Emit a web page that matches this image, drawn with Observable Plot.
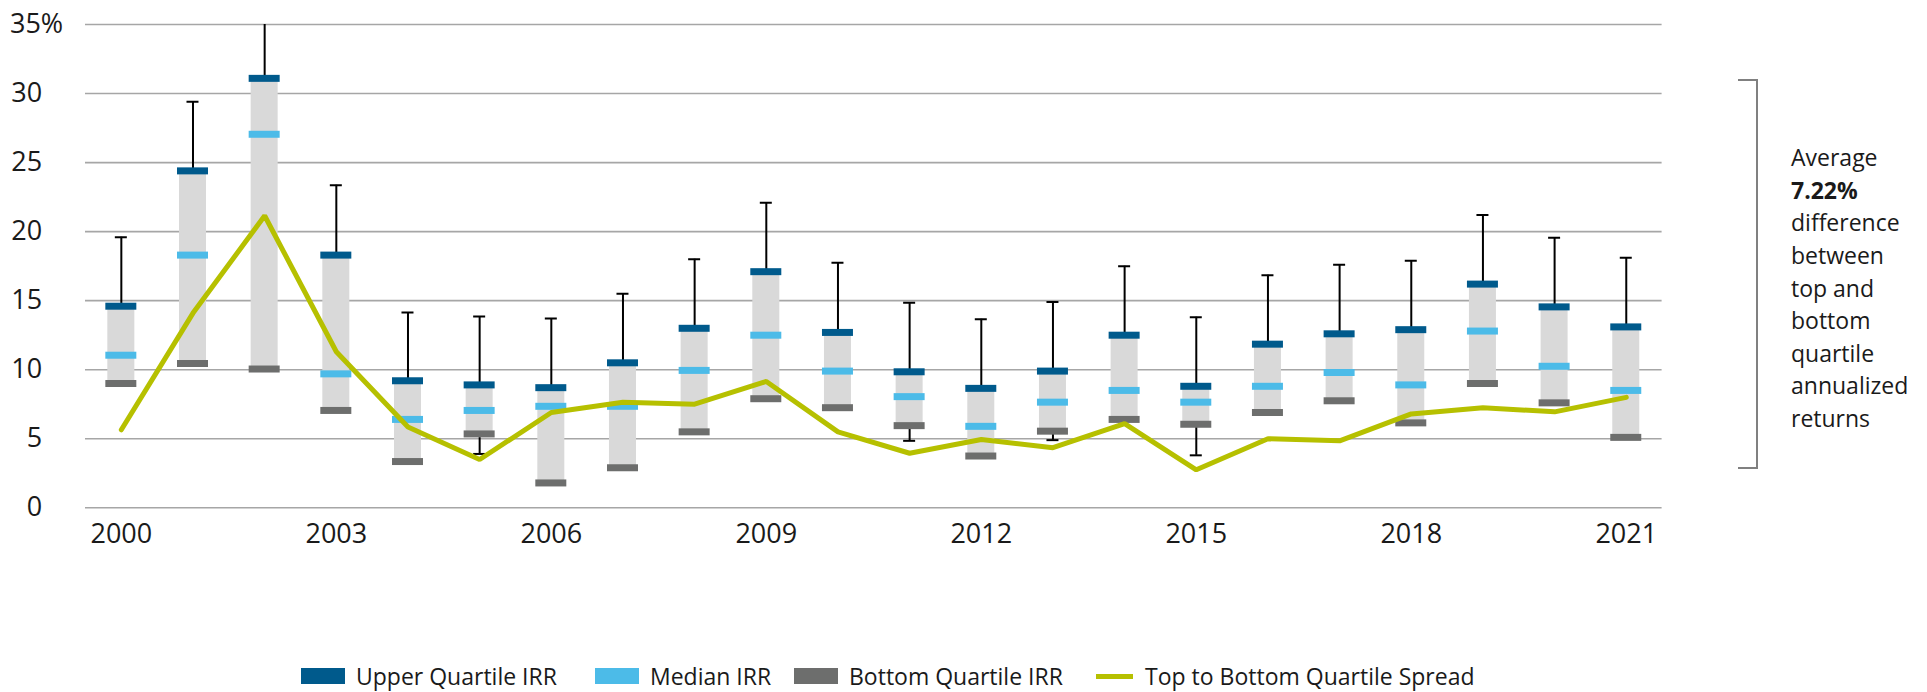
<!DOCTYPE html>
<html>
<head>
<meta charset="utf-8">
<script src="https://cdn.jsdelivr.net/npm/d3@7"></script>
<script src="https://cdn.jsdelivr.net/npm/@observablehq/plot@0.6"></script>
<style>
  body { margin: 0; background: #fff; font-family: "Open Sans", sans-serif; color: #1a1a1a; }
  #wrap { position: relative; width: 1927px; height: 692px; overflow: hidden; background: #fff; }
  #chart svg { display: block; position: absolute; left: 0; top: 0; }
  .legend-item { position: absolute; top: 664px; height: 24px; line-height: 24px; display: flex; align-items: center; font-size: 23px; white-space: nowrap; }
  .sw { width: 44px; height: 16px; margin-right: 11px; flex: none; }
  .swline { width: 37px; height: 5px; margin-right: 12px; flex: none; }
  #bracket { position: absolute; left: 1738px; top: 79px; width: 20px; height: 390px; box-sizing: border-box; border: 2px solid #808080; border-left: none; }
  #note { position: absolute; left: 1791px; top: 141.3px; font-size: 23px; line-height: 32.6px; }
  #note b { font-weight: 700; }
</style>
</head>
<body>
<div id="wrap">
  <div id="chart"></div>
  <div id="bracket"></div>
  <div id="note"></div>
  <div id="legend"></div>
</div>
<script>
// ---- data ----
const years = [2000, 2001, 2002, 2003, 2004, 2005, 2006, 2007, 2008, 2009, 2010,
               2011, 2012, 2013, 2014, 2015, 2016, 2017, 2018, 2019, 2020, 2021];
const upperQuartile  = [14.6, 24.4, 31.1, 18.3, 9.2, 8.9, 8.7, 10.5, 13.0, 17.1, 12.7,
                        9.85, 8.65, 9.9, 12.5, 8.8, 11.85, 12.6, 12.9, 16.2, 14.55, 13.1];
const medianIRR      = [11.05, 18.3, 27.05, 9.7, 6.4, 7.05, 7.35, 7.35, 9.95, 12.5, 9.9,
                        8.05, 5.9, 7.65, 8.5, 7.65, 8.8, 9.8, 8.9, 12.8, 10.25, 8.5];
const bottomQuartile = [9.0, 10.45, 10.05, 7.05, 3.35, 5.35, 1.8, 2.9, 5.5, 7.9, 7.25,
                        5.95, 3.75, 5.55, 6.4, 6.05, 6.9, 7.75, 6.15, 9.0, 7.6, 5.1];
const whiskerHigh    = [19.6, 29.4, 36.1, 23.35, 14.15, 13.85, 13.7, 15.5, 18.0, 22.1, 17.75,
                        14.85, 13.65, 14.9, 17.5, 13.8, 16.85, 17.6, 17.9, 21.2, 19.55, 18.1];
const whiskerLow     = [null, null, null, null, null, 3.9, null, null, null, null, null,
                        4.85, null, 4.9, null, 3.8, null, null, null, null, null, null];
const spread         = [5.65, 14.1, 21.15, 11.3, 5.85, 3.5, 6.9, 7.65, 7.5, 9.15, 5.5,
                        3.95, 4.95, 4.35, 6.1, 2.75, 5.0, 4.85, 6.8, 7.25, 6.95, 8.0];
const xTickLabels = ["2000", "2003", "2006", "2009", "2012", "2015", "2018", "2021"];
const yTicks = [0, 5, 10, 15, 20, 25, 30, 35];
const yTopLabel = "35%";
const seriesNames = ["Upper Quartile IRR", "Median IRR", "Bottom Quartile IRR", "Top to Bottom Quartile Spread"];
const noteLines = ["Average", "7.22%", "difference", "between", "top and", "bottom", "quartile", "annualized", "returns"];

// ---- styling ----
const colors = { upper: "#005a8c", median: "#4cbbe8", bottom: "#6d6e6d", box: "#d9d9d9", spread: "#b6c000", grid: "#a6a6a6" };
const W = 1927, H = 560, mL = 85, mR = 265.4, mT = 24, mB = 52.7;
const band = (W - mL - mR) / years.length;
const boxW = 27, markW = 31, capW = 12;
const yMax = yTicks[yTicks.length - 1];

const data = years.map((y, i) => ({
  year: String(y),
  upper: upperQuartile[i],
  median: medianIRR[i],
  bottom: bottomQuartile[i],
  hi: whiskerHigh[i],
  lo: whiskerLow[i],
  spread: spread[i]
}));
const lowData = data.filter(d => d.lo != null);

const chart = Plot.plot({
  width: W, height: H,
  marginLeft: mL, marginRight: mR, marginTop: mT, marginBottom: mB,
  style: { fontFamily: "'Open Sans', sans-serif", fontSize: "27px", color: "#1a1a1a", background: "transparent" },
  x: { type: "band", domain: years.map(String), padding: 0, round: false, ticks: xTickLabels,
       tickFormat: d => xTickLabels.includes(d) ? d : "", tickSize: 0, tickPadding: 16, label: null },
  y: { domain: [0, yMax], ticks: yTicks, tickSize: 0, tickPadding: 43.3,
       tickFormat: d => d === yMax ? "" : String(d), label: null },
  marks: [
    Plot.ruleY(yTicks, { stroke: colors.grid, strokeWidth: 1.6 }),
    Plot.text([yMax], { y: d => d, text: () => yTopLabel, frameAnchor: "left", dx: -22.3,
                        textAnchor: "end", fontSize: 27, fill: "#1a1a1a" }),
    Plot.ruleX(data, { x: "year", y1: "upper", y2: "hi", stroke: "#000", strokeWidth: 2, clip: true }),
    Plot.tickY(data, { x: "year", y: "hi", stroke: "#000", strokeWidth: 2,
                       insetLeft: (band - capW) / 2, insetRight: (band - capW) / 2, clip: true }),
    Plot.ruleX(lowData, { x: "year", y1: "upper", y2: "lo", stroke: "#000", strokeWidth: 2 }),
    Plot.tickY(lowData, { x: "year", y: "lo", stroke: "#000", strokeWidth: 2,
                          insetLeft: (band - capW) / 2, insetRight: (band - capW) / 2 }),
    Plot.barY(data, { x: "year", y1: "bottom", y2: "upper", fill: colors.box,
                      insetLeft: (band - boxW) / 2, insetRight: (band - boxW) / 2 }),
    Plot.tickY(data, { x: "year", y: "upper", stroke: colors.upper, strokeWidth: 7,
                       insetLeft: (band - markW) / 2, insetRight: (band - markW) / 2 }),
    Plot.tickY(data, { x: "year", y: "median", stroke: colors.median, strokeWidth: 7,
                       insetLeft: (band - markW) / 2, insetRight: (band - markW) / 2 }),
    Plot.tickY(data, { x: "year", y: "bottom", stroke: colors.bottom, strokeWidth: 7,
                       insetLeft: (band - markW) / 2, insetRight: (band - markW) / 2 }),
    Plot.line(data, { x: "year", y: "spread", stroke: colors.spread, strokeWidth: 5, strokeLinejoin: "miter" })
  ]
});
document.getElementById("chart").appendChild(chart);

// ---- annotation ----
const note = document.getElementById("note");
noteLines.forEach((t, i) => {
  const el = document.createElement("div");
  if (i === 1) { const b = document.createElement("b"); b.textContent = t; el.appendChild(b); }
  else el.textContent = t;
  note.appendChild(el);
});

// ---- legend ----
const legend = document.getElementById("legend");
const legendSpec = [
  { name: seriesNames[0], color: colors.upper, left: 301, kind: "box" },
  { name: seriesNames[1], color: colors.median, left: 595, kind: "box" },
  { name: seriesNames[2], color: colors.bottom, left: 794, kind: "box" },
  { name: seriesNames[3], color: colors.spread, left: 1096, kind: "line" }
];
legendSpec.forEach(s => {
  const item = document.createElement("div");
  item.className = "legend-item";
  item.style.left = s.left + "px";
  const sw = document.createElement("span");
  sw.className = s.kind === "box" ? "sw" : "swline";
  sw.style.background = s.color;
  const tx = document.createElement("span");
  tx.textContent = s.name;
  item.appendChild(sw); item.appendChild(tx);
  legend.appendChild(item);
});
</script>
</body>
</html>
